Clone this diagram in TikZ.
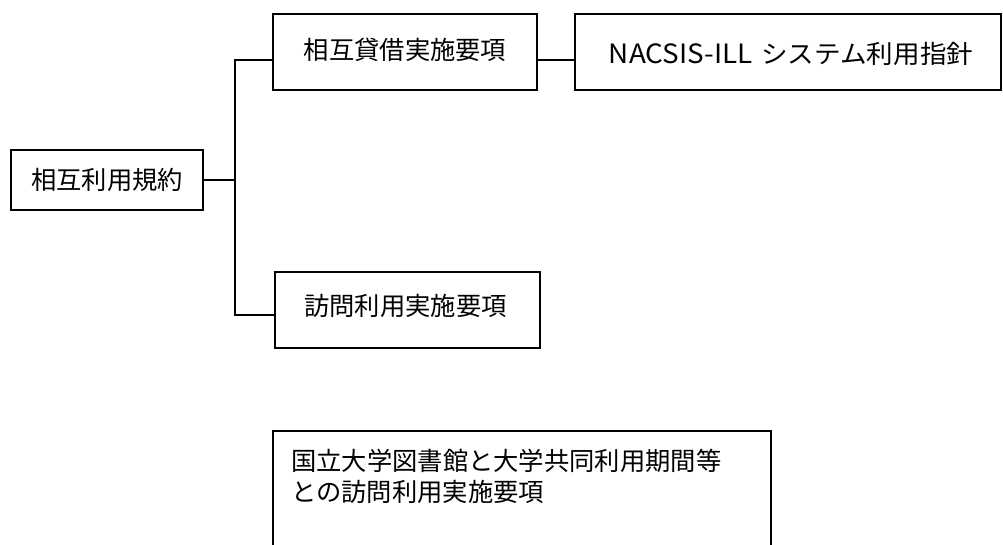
\documentclass[tikz,border=0pt]{standalone}
\usepackage{fontspec}
\setmainfont{Noto Sans CJK JP}
\begin{document}
\begin{tikzpicture}[x=1pt,y=-1pt,
  box/.style={draw,line width=1.6pt,rectangle,inner sep=0pt},
  lbl/.style={inner sep=0pt,font=\fontsize{25.3}{32}\selectfont},
  conn/.style={line width=1.6pt}]
\useasboundingbox (0,0) rectangle (1003,544);
\clip (0,0) rectangle (1003,544);
\node[box,minimum width=192pt,minimum height=60pt] (b1) at (107,180) {};
\node[lbl] (t1) at (107,180) {相互利用規約};
\node[box,minimum width=264pt,minimum height=76pt] (b2) at (405,52) {};
\node[lbl] (t2) at (405,50) {相互貸借実施要項};
\node[box,minimum width=426pt,minimum height=76pt] (b3) at (788,52) {};
\node[lbl] (t3) at (791,54) {\scalebox{1.1}[1.05]{NACSIS-ILL}\hspace{9pt}\scalebox{1.05}[1]{システム利用指針}};
\node[box,minimum width=265pt,minimum height=76pt] (b4) at (407.5,310) {};
\node[lbl] (t4) at (405.5,306) {訪問利用実施要項};
\node[box,minimum width=498pt,minimum height=150pt] (b5) at (522,506) {};
\node[lbl,anchor=north west,align=left,font=\fontsize{25.3}{31}\selectfont] (t5) at (291,449) {国立大学図書館と大学共同利用期間等\\との訪問利用実施要項};
\coordinate (j0) at (235,180);
\coordinate (j1) at (235,60);
\coordinate (j2) at (235,315);
\draw[conn] (b1.east |- j0) -- (j0);
\draw[conn] (j1 -| b2.west) -- (j1) -- (j2) -- (j2 -| b4.west);
\draw[conn] (b2.east |- j1) -- (b3.west |- j1);
\end{tikzpicture}
\end{document}
